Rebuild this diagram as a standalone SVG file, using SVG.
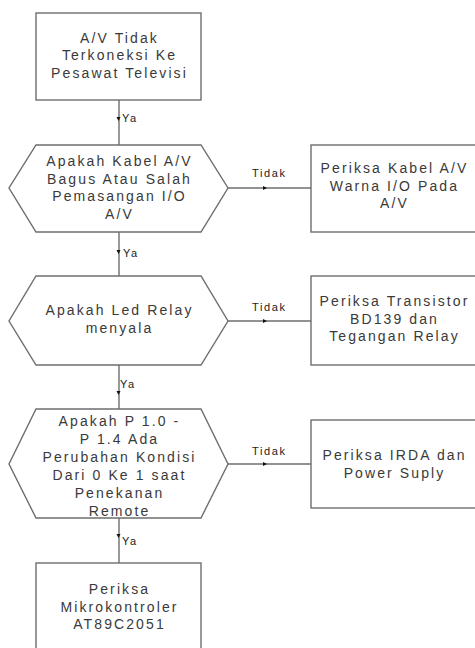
<svg xmlns="http://www.w3.org/2000/svg" width="475" height="648" viewBox="0 0 475 648">
<style>
.shape{fill:#fff;stroke:#6e6e6e;stroke-width:1.4}
.t{font-family:"Liberation Sans",Arial,sans-serif;font-size:14px;letter-spacing:2.1px;fill:#3a3a3a;text-anchor:middle}
.lbl{font-family:"Liberation Sans",Arial,sans-serif;font-size:11px;letter-spacing:1.6px;fill:#222}
.ln{stroke:#6e6e6e;stroke-width:1.4;fill:none}
.ah{fill:#111}
</style>
<rect width="475" height="648" fill="#fff"/>
<g id="connectors">
<line class="ln" x1="119" y1="100" x2="119" y2="145"/>
<polygon class="ah" points="116.5,117 120.5,117 118.5,121"/>
<text class="lbl" x="122" y="122">Ya</text>
<line class="ln" x1="119" y1="232" x2="119" y2="276"/>
<polygon class="ah" points="116.5,250 120.5,250 118.5,254"/>
<text class="lbl" x="123" y="257">Ya</text>
<line class="ln" x1="119" y1="365" x2="119" y2="409"/>
<polygon class="ah" points="116.5,391 120.5,391 118.5,395"/>
<text class="lbl" x="120" y="388">Ya</text>
<line class="ln" x1="119" y1="518" x2="119" y2="563"/>
<polygon class="ah" points="116.5,534 120.5,534 118.5,538"/>
<text class="lbl" x="122" y="545">Ya</text>
<line class="ln" x1="228" y1="188" x2="311" y2="188"/>
<polygon class="ah" points="263,186 267,188 263,190"/>
<text class="lbl" x="252" y="177">Tidak</text>
<line class="ln" x1="228" y1="321" x2="311" y2="321"/>
<polygon class="ah" points="263,319 267,321 263,323"/>
<text class="lbl" x="252" y="311">Tidak</text>
<line class="ln" x1="228" y1="464" x2="311" y2="464"/>
<polygon class="ah" points="263,462 267,464 263,466"/>
<text class="lbl" x="252" y="455">Tidak</text>
</g>
<g id="n1">
<rect class="shape" x="36" y="13" width="165" height="87"/>
<text class="t" x="119.5" y="42.5">A/V Tidak</text>
<text class="t" x="119.5" y="60">Terkoneksi Ke</text>
<text class="t" x="119.5" y="77.5">Pesawat Televisi</text>
</g>
<g id="n2">
<polygon class="shape" points="36,145 201,145 228,188 201,232 36,232 9,188"/>
<text class="t" x="119.5" y="166">Apakah Kabel A/V</text>
<text class="t" x="119.5" y="183.5">Bagus Atau Salah</text>
<text class="t" x="119.5" y="201">Pemasangan I/O</text>
<text class="t" x="119.5" y="218.5">A/V</text>
</g>
<g id="n3">
<rect class="shape" x="311" y="145" width="166" height="87"/>
<text class="t" x="394.5" y="173">Periksa Kabel A/V</text>
<text class="t" x="394.5" y="190.5">Warna I/O Pada</text>
<text class="t" x="394.5" y="208">A/V</text>
</g>
<g id="n4">
<polygon class="shape" points="36,276 201,276 228,321 201,365 36,365 9,321"/>
<text class="t" x="119.5" y="315">Apakah Led Relay</text>
<text class="t" x="119.5" y="333">menyala</text>
</g>
<g id="n5">
<rect class="shape" x="311" y="276" width="166" height="89"/>
<text class="t" x="394.5" y="306">Periksa Transistor</text>
<text class="t" x="394.5" y="323.5">BD139 dan</text>
<text class="t" x="394.5" y="341">Tegangan Relay</text>
</g>
<g id="n6">
<polygon class="shape" points="36,409 201,409 228,464 201,518 36,518 9,464"/>
<text class="t" x="119.5" y="425.5">Apakah P 1.0 -</text>
<text class="t" x="119.5" y="443.5">P 1.4 Ada</text>
<text class="t" x="119.5" y="461.5">Perubahan Kondisi</text>
<text class="t" x="119.5" y="479.5">Dari 0 Ke 1 saat</text>
<text class="t" x="119.5" y="497.5">Penekanan</text>
<text class="t" x="119.5" y="515.5">Remote</text>
</g>
<g id="n7">
<rect class="shape" x="311" y="420" width="166" height="88"/>
<text class="t" x="394.5" y="460">Periksa IRDA dan</text>
<text class="t" x="394.5" y="477.5">Power Suply</text>
</g>
<g id="n8">
<rect class="shape" x="36" y="563" width="165" height="90"/>
<text class="t" x="119.5" y="594">Periksa</text>
<text class="t" x="119.5" y="611.5">Mikrokontroler</text>
<text class="t" x="119.5" y="629">AT89C2051</text>
</g>
</svg>
